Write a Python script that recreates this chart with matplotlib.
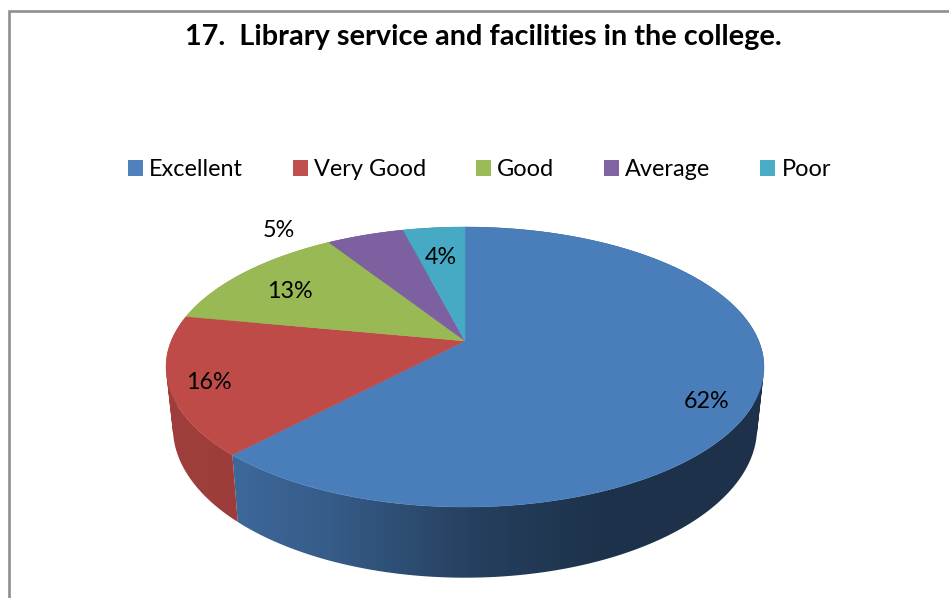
"""3D perspective pie chart: library service ratings."""

from __future__ import annotations

import matplotlib

matplotlib.use("Agg")

import matplotlib.pyplot as plt
import numpy as np
from matplotlib.colors import to_rgb
from matplotlib.patches import Patch, Polygon
from matplotlib.path import Path

plt.rcParams["font.family"] = ["Lato", "DejaVu Sans"]

TITLE = "17.  Library service and facilities in the college."
categories = ["Excellent", "Very Good", "Good", "Average", "Poor"]
shares = [62, 16, 13, 5, 4]

top_colors = ["#4a7ebb", "#be4b48", "#98b954", "#7d60a0", "#46aac5"]
legend_colors = ["#4f81bd", "#c0504d", "#9bbb59", "#8064a2", "#4bacc6"]

# label anchors (pixels), same order as categories
label_xy = [(707, 408), (209, 389), (290, 298), (279, 237), (441, 264)]

# perspective of the disc: top face and bottom rim, in pixels
CX = 465
TILT = 0.1857
TOP_FACE = dict(apex_y=341, half_w=293.8, half_h=135.2)
BOTTOM_RIM = dict(apex_y=400, half_w=287.0, half_h=144.7)

# wall darkening across the picture
shade_x = [160, 240, 330, 400, 480, 600, 770]
shade_k = [0.84, 0.82, 0.73, 0.62, 0.50, 0.40, 0.40]


def project(theta: np.ndarray, face: dict) -> tuple[np.ndarray, np.ndarray]:
    """Rim point for a clockwise angle from 12 o'clock (radians)."""
    u, v = np.sin(theta), np.cos(theta)
    w = 1 + TILT * v
    return CX + face["half_w"] * u / w, face["apex_y"] - face["half_h"] * v / w


def wall_path(start: float, stop: float) -> Path:
    """Slice wall as a compound path of quads, all wound the same way."""
    n = max(int(np.degrees(stop - start)), 2)
    theta = np.linspace(start, stop, n + 1)
    xt, yt = project(theta, TOP_FACE)
    xb, yb = project(theta, BOTTOM_RIM)
    verts, codes = [], []
    for i in range(n):
        quad = np.array([(xt[i], yt[i]), (xt[i + 1], yt[i + 1]), (xb[i + 1], yb[i + 1]), (xb[i], yb[i])])
        x, y = quad[:, 0], quad[:, 1]
        if np.dot(x, np.roll(y, -1)) - np.dot(y, np.roll(x, -1)) < 0:
            quad = quad[::-1]
        verts.extend(quad.tolist() + [quad[0].tolist()])
        codes.extend([Path.MOVETO, Path.LINETO, Path.LINETO, Path.LINETO, Path.CLOSEPOLY])
    return Path(verts, codes)


def draw_wall(ax: plt.Axes, start: float, stop: float, color: str) -> None:
    """Side wall of a slice: a horizontal gradient clipped to its quads."""
    xs = np.linspace(150, 780, 630)
    gradient = np.outer(np.interp(xs, shade_x, shade_k), np.array(to_rgb(color)))[np.newaxis, :, :]
    im = ax.imshow(gradient, extent=(150, 780, 600, 200), aspect="auto", interpolation="bilinear", zorder=1)
    im.set_clip_path(wall_path(start, stop), transform=ax.transData)


fig = plt.figure(figsize=(9.49, 5.98), dpi=100)
ax = fig.add_axes([0, 0, 1, 1])
ax.axis("off")

# chart frame: only left and top edges are inside the crop
ax.plot([8.7, 8.7, 949], [598, 11.3, 11.3], color="#8e8e8e", lw=1.9, solid_joinstyle="miter")

edges = 2 * np.pi * np.cumsum([0] + shares) / sum(shares)

for i, color in enumerate(top_colors):
    draw_wall(ax, edges[i], edges[i + 1], color)

for i, color in enumerate(top_colors):
    theta = np.linspace(edges[i], edges[i + 1], 200)
    xr, yr = project(theta, TOP_FACE)
    verts = np.column_stack([np.r_[CX, xr], np.r_[TOP_FACE["apex_y"], yr]])
    ax.add_patch(Polygon(verts, closed=True, facecolor=color, edgecolor=color, lw=0.3, zorder=2))

for share, (x, y) in zip(shares, label_xy):
    ax.text(x, y, f"{share}%", ha="center", va="baseline", fontsize=16.8, color="black", zorder=3)

ax.text(483, 45, TITLE, ha="center", va="baseline", fontsize=20.8, fontweight="bold", color="black")

FS = 16.9
px = FS * 100 / 72
handles = [Patch(facecolor=c, edgecolor="none") for c in legend_colors]
ax.legend(
    handles,
    categories,
    ncol=5,
    loc="center",
    bbox_to_anchor=(479.5, 170),
    bbox_transform=ax.transData,
    frameon=False,
    fontsize=FS,
    handlelength=15 / px,
    handleheight=15 / px,
    handletextpad=6 / px,
    columnspacing=50 / px,
    borderpad=0,
    borderaxespad=0,
)

ax.set_xlim(0, 949)
ax.set_ylim(598, 0)

fig.savefig("out.png", dpi=100)
plt.close(fig)
